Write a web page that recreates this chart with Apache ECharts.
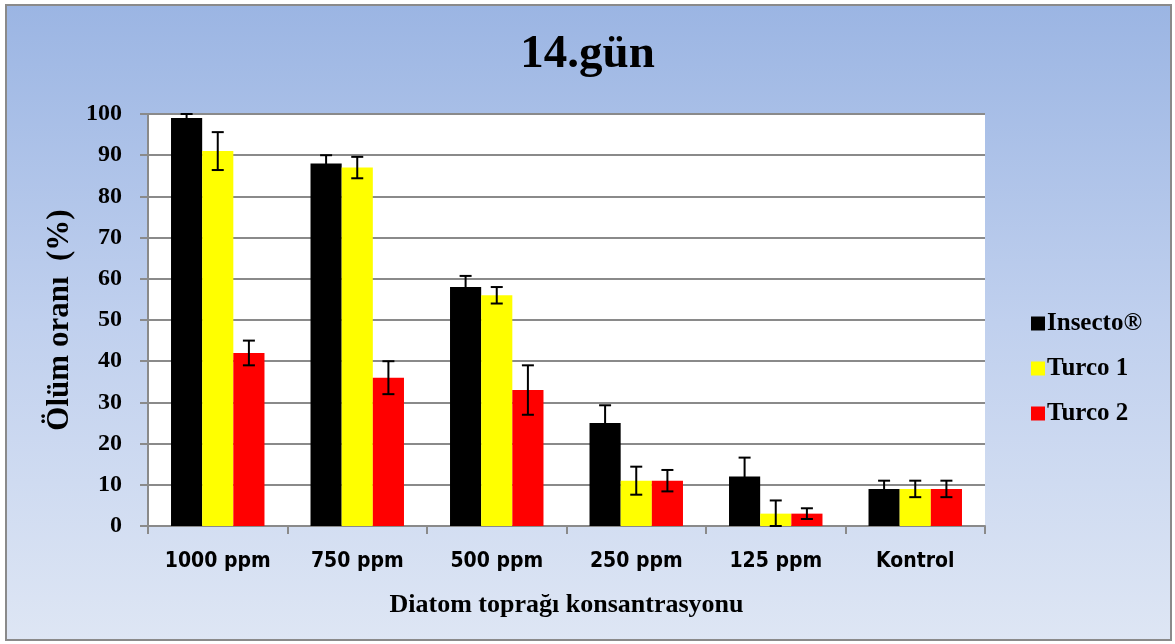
<!DOCTYPE html>
<html>
<head>
<meta charset="utf-8">
<script src="https://cdn.jsdelivr.net/npm/echarts@6/dist/echarts.min.js"></script>
<style>
  html, body { margin: 0; padding: 0; background: #fff; }
  #chart { width: 1175px; height: 644px; }
</style>
</head>
<body>
<div id="chart"></div>
<script>
const categories = ['1000 ppm', '750 ppm', '500 ppm', '250 ppm', '125 ppm', 'Kontrol'];
const seriesNames = ['Insecto®', 'Turco 1', 'Turco 2'];
const insecto = [99, 88, 58, 25, 12, 9];
const turco1 = [91, 87, 56, 11, 3, 9];
const turco2 = [42, 36, 33, 11, 3, 9];
const insectoErr = [1, 2, 2.7, 4.3, 4.6, 2];
const turco1Err = [4.6, 2.6, 2, 3.4, 3.2, 2];
const turco2Err = [3, 4, 6, 2.6, 1.3, 2];
const yTicks = [0, 10, 20, 30, 40, 50, 60, 70, 80, 90, 100];

const colors = ['#000000', '#ffff00', '#ff0000'];
const values = [insecto, turco1, turco2];
const errors = [insectoErr, turco1Err, turco2Err];
const catGap = 0.33;

const chart = echarts.init(document.getElementById('chart'));

function errorSeries(idx) {
  return {
    type: 'custom',
    name: seriesNames[idx] + ' err',
    z: 10,
    silent: true,
    data: values[idx].map((v, i) => [i, v, errors[idx][i]]),
    renderItem: function (params, api) {
      const cat = api.value(0);
      const val = api.value(1);
      const err = api.value(2);
      const catW = api.size([1, 0])[0];
      const bw = catW * (1 - catGap) / 3;
      const center = api.coord([cat, val]);
      const x = center[0] + (idx - 1) * bw;
      const top = api.coord([cat, Math.min(100, val + err)])[1];
      const bot = api.coord([cat, Math.max(0, val - err)])[1];
      const cap = 6;
      const st = { stroke: '#000', lineWidth: 2 };
      return {
        type: 'group',
        children: [
          { type: 'line', shape: { x1: x, y1: top, x2: x, y2: bot }, style: st },
          { type: 'line', shape: { x1: x - cap, y1: top, x2: x + cap, y2: top }, style: st },
          { type: 'line', shape: { x1: x - cap, y1: bot, x2: x + cap, y2: bot }, style: st }
        ]
      };
    }
  };
}

const barSeries = seriesNames.map((name, idx) => ({
  type: 'bar',
  name: name,
  data: values[idx],
  barGap: '0%',
  barCategoryGap: (catGap * 100) + '%',
  itemStyle: { color: colors[idx] },
  emphasis: { disabled: true }
}));

chart.setOption({
  animation: false,
  graphic: [
    {
      type: 'rect',
      z: -10,
      shape: { x: 6, y: 5, width: 1165, height: 635 },
      style: {
        fill: new echarts.graphic.LinearGradient(0, 0, 0, 1, [
          { offset: 0, color: '#9bb5e3' },
          { offset: 0.5, color: '#c0d0ee' },
          { offset: 1, color: '#dee6f4' }
        ]),
        stroke: '#8a8a8a',
        lineWidth: 2
      }
    }
  ],
  title: {
    text: '14.gün',
    left: 'center',
    top: 26,
    textStyle: {
      fontFamily: 'Liberation Serif',
      fontWeight: 'bold',
      fontSize: 47,
      color: '#000'
    }
  },
  legend: {
    orient: 'vertical',
    left: 1026,
    top: 305,
    itemGap: 18,
    itemWidth: 14,
    itemHeight: 14,
    icon: 'rect',
    data: seriesNames,
    textStyle: {
      fontFamily: 'Liberation Serif',
      fontWeight: 'bold',
      fontSize: 25,
      lineHeight: 27,
      color: '#000',
      padding: [0, 0, 0, -3]
    }
  },
  grid: {
    left: 148,
    right: 190,
    top: 114,
    bottom: 118,
    show: true,
    backgroundColor: '#ffffff',
    borderWidth: 0
  },
  xAxis: {
    type: 'category',
    data: categories,
    name: 'Diatom toprağı konsantrasyonu',
    nameLocation: 'middle',
    nameGap: 66,
    nameTextStyle: {
      fontFamily: 'Liberation Serif',
      fontWeight: 'bold',
      fontSize: 26,
      color: '#000'
    },
    axisLine: { lineStyle: { color: '#8a8a8a', width: 2 } },
    axisTick: { show: true, length: 8, lineStyle: { color: '#8a8a8a', width: 2 } },
    axisLabel: {
      margin: 25,
      fontFamily: 'DejaVu Sans Condensed',
      fontWeight: 'bold',
      fontSize: 21,
      color: '#000'
    }
  },
  yAxis: {
    type: 'value',
    min: yTicks[0],
    max: yTicks[yTicks.length - 1],
    interval: 10,
    name: 'Ölüm oranı  (%)',
    nameLocation: 'middle',
    nameGap: 70,
    nameTextStyle: {
      fontFamily: 'Liberation Serif',
      fontWeight: 'bold',
      fontSize: 31,
      color: '#000'
    },
    axisLine: { show: true, lineStyle: { color: '#8a8a8a', width: 2 } },
    axisTick: { show: true, length: 8, lineStyle: { color: '#8a8a8a', width: 2 } },
    splitLine: { lineStyle: { color: '#8a8a8a', width: 2 } },
    axisLabel: {
      margin: 26,
      fontFamily: 'Liberation Serif',
      fontWeight: 'bold',
      fontSize: 24,
      color: '#000'
    }
  },
  series: barSeries.concat([errorSeries(0), errorSeries(1), errorSeries(2)])
});
</script>
</body>
</html>
